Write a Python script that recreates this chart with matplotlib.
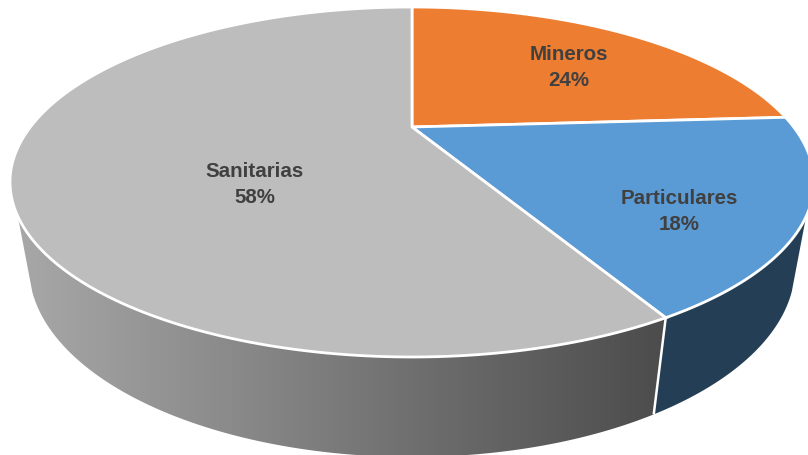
import numpy as np
import matplotlib
matplotlib.use("Agg")
import matplotlib.pyplot as plt
from matplotlib.patches import Polygon
from matplotlib.colors import LinearSegmentedColormap

categories = ["Mineros", "Particulares", "Sanitarias"]
shares = [24, 18, 58]
top_colors = ["#ED7D31", "#5B9BD5", "#BDBDBD"]
side_colors = [None, "#243F55", None]
text_color = "#404040"

W, H = 808, 456
CX, CY, A, B = 412, 183, 402, 175
APEX = -55 / 175
CX2, CY2, A2, B2 = 412, 268, 383, 190

fig = plt.figure(figsize=(W / 100, H / 100), dpi=100)
ax = fig.add_axes([0, 0, 1, 1])
ax.set_xlim(0, W)
ax.set_ylim(H, 0)
ax.axis("off")


def rim(frac, cx=CX, cy=CY, a=A, b=B):
    """Perspective view of a disc: fraction clockwise from 12 o'clock -> pixels."""
    t = 2 * np.pi * np.asarray(frac, dtype=float)
    u, v = np.sin(t), -np.cos(t)
    d = 1 + v * APEX
    return np.column_stack([cx + a * u * np.sqrt(1 - APEX ** 2) / d,
                            cy + b * (v + APEX) / d])


def low(frac):
    return rim(frac, CX2, CY2, A2, B2)


apex_xy = (CX, CY + APEX * B)
edges = np.cumsum([0] + shares) / sum(shares)

# Visible part of the wall: silhouette ends on the upper and lower rim
wall_start, wall_end = 0.33, 0.67
low_start, low_end = 0.32, 0.68

gray_cmap = LinearSegmentedColormap.from_list("wall", ["#A8A8A8", "#8A8A8A", "#6A6A6A", "#4C4C4C"])

# Gray wall
poly = np.vstack([rim(np.linspace(edges[2], wall_end, 200)),
                  low(np.linspace(low_end, edges[2], 200))])
patch = Polygon(poly, closed=True, fc="none", ec="none")
ax.add_patch(patch)
grad = np.linspace(0, 1, 256).reshape(1, -1)
im = ax.imshow(grad, cmap=gray_cmap, extent=[15, 665, H, 0], aspect="auto", zorder=1)
ax.set_xlim(0, W)
ax.set_ylim(H, 0)
im.set_clip_path(patch)

# Blue wall
poly = np.vstack([rim(np.linspace(wall_start, edges[2], 100)),
                  low(np.linspace(edges[2], low_start, 100))])
ax.add_patch(Polygon(poly, closed=True, fc=side_colors[1], ec="none", zorder=1))

# Separator on the wall
sep = np.vstack([rim([edges[2]]), low([edges[2]])])
ax.plot(sep[:, 0], sep[:, 1], color="white", lw=1.8, zorder=2, solid_capstyle="butt")

# Top slices
for i, name in enumerate(categories):
    f = np.linspace(edges[i], edges[i + 1], 200)
    ax.add_patch(Polygon(np.vstack([apex_xy, rim(f)]), closed=True, fc=top_colors[i],
                         ec="white", lw=2.0, joinstyle="miter", zorder=3))

label_pos = [(569, 67.5), (679, 211.5), (255, 184.5)]
for name, val, (x, y) in zip(categories, shares, label_pos):
    ax.text(x, y, f"{name}\n{val}%", ha="center", va="center", color=text_color,
            fontsize=14.8, fontweight="bold", family="Liberation Sans", linespacing=1.45, zorder=4)

fig.savefig("out.png", dpi=100)
